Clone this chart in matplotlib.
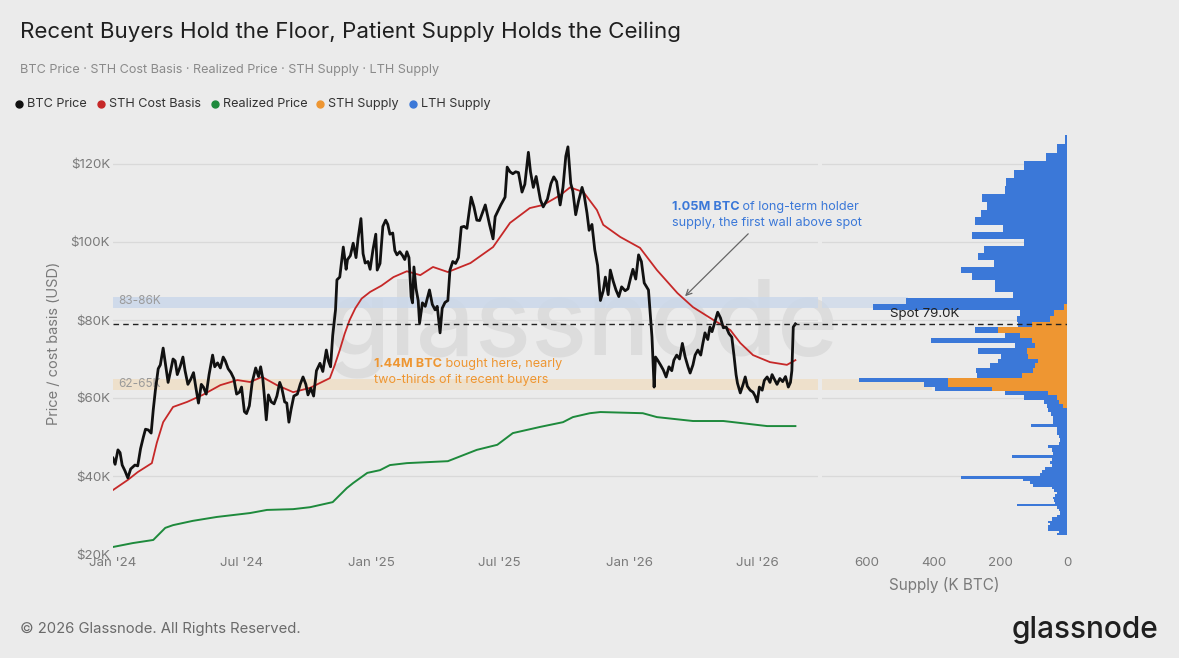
import matplotlib.pyplot as plt
import matplotlib.dates as mdates
from matplotlib.lines import Line2D
import numpy as np
import pandas as pd

plt.rcParams['font.family'] = ['Inter', 'DejaVu Sans']

# ---- data ----
btc_dates = [
    '2024-01-01', '2024-01-04', '2024-01-08', '2024-01-11', '2024-01-14', '2024-01-18', '2024-01-22', '2024-01-26',
    '2024-02-01', '2024-02-05', '2024-02-09', '2024-02-13', '2024-02-16', '2024-02-20', '2024-02-24', '2024-02-27',
    '2024-03-01', '2024-03-05', '2024-03-08', '2024-03-12', '2024-03-15', '2024-03-19', '2024-03-22', '2024-03-26',
    '2024-03-29', '2024-04-01', '2024-04-05', '2024-04-09', '2024-04-12', '2024-04-16', '2024-04-20', '2024-04-24',
    '2024-04-27', '2024-05-01', '2024-05-05', '2024-05-08', '2024-05-12', '2024-05-16', '2024-05-21', '2024-05-24',
    '2024-05-28', '2024-06-01', '2024-06-05', '2024-06-08', '2024-06-12', '2024-06-16', '2024-06-20', '2024-06-24',
    '2024-06-28', '2024-07-01', '2024-07-05', '2024-07-08', '2024-07-12', '2024-07-16', '2024-07-21', '2024-07-25',
    '2024-07-28', '2024-07-31', '2024-08-02', '2024-08-05', '2024-08-08', '2024-08-12', '2024-08-16', '2024-08-20',
    '2024-08-24', '2024-08-27', '2024-08-31', '2024-09-03', '2024-09-06', '2024-09-09', '2024-09-13', '2024-09-18',
    '2024-09-22', '2024-09-26', '2024-09-30', '2024-10-03', '2024-10-07', '2024-10-11', '2024-10-15', '2024-10-20',
    '2024-10-24', '2024-10-29', '2024-11-01', '2024-11-04', '2024-11-07', '2024-11-11', '2024-11-13', '2024-11-17',
    '2024-11-22', '2024-11-26', '2024-11-28', '2024-12-02', '2024-12-06', '2024-12-10', '2024-12-13', '2024-12-17',
    '2024-12-20', '2024-12-23', '2024-12-27', '2024-12-30', '2025-01-03', '2025-01-07', '2025-01-09', '2025-01-13',
    '2025-01-17', '2025-01-21', '2025-01-24', '2025-01-27', '2025-01-31', '2025-02-03', '2025-02-06', '2025-02-10',
    '2025-02-14', '2025-02-17', '2025-02-20', '2025-02-23', '2025-02-26', '2025-02-28', '2025-03-02', '2025-03-05',
    '2025-03-08', '2025-03-10', '2025-03-14', '2025-03-18', '2025-03-24', '2025-03-28', '2025-04-01', '2025-04-04',
    '2025-04-08', '2025-04-11', '2025-04-15', '2025-04-19', '2025-04-22', '2025-04-26', '2025-04-30', '2025-05-04',
    '2025-05-08', '2025-05-12', '2025-05-16', '2025-05-22', '2025-05-26', '2025-05-30', '2025-06-03', '2025-06-08',
    '2025-06-11', '2025-06-17', '2025-06-22', '2025-06-25', '2025-06-29', '2025-07-03', '2025-07-09', '2025-07-12',
    '2025-07-16', '2025-07-20', '2025-07-24', '2025-07-28', '2025-08-02', '2025-08-06', '2025-08-11', '2025-08-14',
    '2025-08-18', '2025-08-22', '2025-08-28', '2025-09-01', '2025-09-07', '2025-09-12', '2025-09-16', '2025-09-20',
    '2025-09-25', '2025-09-29', '2025-10-03', '2025-10-06', '2025-10-10', '2025-10-13', '2025-10-17', '2025-10-21',
    '2025-10-26', '2025-10-29', '2025-11-02', '2025-11-05', '2025-11-09', '2025-11-13', '2025-11-17', '2025-11-21',
    '2025-11-25', '2025-11-28', '2025-12-02', '2025-12-05', '2025-12-09', '2025-12-13', '2025-12-17', '2025-12-21',
    '2025-12-26', '2025-12-30', '2026-01-03', '2026-01-06', '2026-01-10', '2026-01-14', '2026-01-18', '2026-01-22',
    '2026-01-28', '2026-02-01', '2026-02-02', '2026-02-05', '2026-02-07', '2026-02-10', '2026-02-14', '2026-02-18',
    '2026-02-22', '2026-02-26', '2026-03-02', '2026-03-05', '2026-03-09', '2026-03-13', '2026-03-17', '2026-03-21',
    '2026-03-25', '2026-03-28', '2026-04-01', '2026-04-04', '2026-04-08', '2026-04-12', '2026-04-15', '2026-04-18',
    '2026-04-22', '2026-04-25', '2026-04-28', '2026-05-02', '2026-05-06', '2026-05-10', '2026-05-14', '2026-05-18',
    '2026-05-22', '2026-05-26', '2026-05-29', '2026-06-01', '2026-06-03', '2026-06-07', '2026-06-11', '2026-06-14',
    '2026-06-17', '2026-06-21', '2026-06-25', '2026-06-28', '2026-07-01', '2026-07-04', '2026-07-08', '2026-07-11',
    '2026-07-15', '2026-07-19', '2026-07-22', '2026-07-25', '2026-07-29', '2026-08-02', '2026-08-06', '2026-08-10',
    '2026-08-14', '2026-08-17', '2026-08-19', '2026-08-21', '2026-08-24',
]
btc_price = [
    44.6, 43.0, 46.7, 46.0, 42.8, 41.3, 39.5, 41.8,
    42.8, 42.6, 47.0, 50.0, 52.0, 51.8, 51.0, 57.0,
    62.0, 67.5, 68.5, 72.8, 69.0, 64.0, 66.5, 70.0,
    69.5, 66.0, 68.0, 70.5, 67.0, 63.5, 64.8, 66.5,
    63.0, 58.7, 63.5, 62.8, 61.0, 66.0, 71.0, 68.0,
    69.0, 67.7, 70.5, 69.5, 67.5, 66.5, 65.0, 61.0,
    61.5, 62.8, 56.5, 56.0, 58.0, 64.0, 67.7, 65.5,
    68.0, 65.0, 61.0, 54.4, 60.8, 59.0, 58.5, 60.5,
    64.0, 62.5, 59.0, 58.7, 53.8, 57.0, 60.5, 61.0,
    63.5, 65.4, 63.5, 60.8, 62.5, 60.5, 67.0, 68.9,
    66.8, 72.3, 69.5, 68.0, 76.0, 82.6, 90.3, 91.0,
    98.7, 93.0, 95.5, 96.5, 99.7, 96.0, 101.0, 106.0,
    97.0, 94.6, 95.0, 93.0, 98.0, 102.0, 92.8, 94.5,
    104.0, 105.6, 104.5, 102.0, 102.3, 97.8, 96.7, 97.5,
    96.5, 95.5, 97.5, 96.0, 86.0, 84.4, 93.6, 88.0,
    85.0, 79.2, 84.4, 83.5, 87.7, 84.0, 82.6, 83.5,
    76.7, 83.0, 84.5, 85.0, 92.8, 95.0, 94.5, 96.0,
    103.8, 104.0, 103.5, 111.5, 109.0, 105.6, 105.5, 108.0,
    109.5, 104.5, 100.8, 106.5, 108.0, 109.5, 111.5, 119.2,
    118.0, 117.5, 118.0, 117.8, 112.8, 114.8, 123.0, 118.0,
    114.0, 116.8, 110.8, 109.0, 111.0, 115.0, 116.7, 115.5,
    109.5, 114.0, 122.0, 124.4, 115.0, 113.0, 107.0, 110.5,
    114.0, 112.0, 107.4, 103.0, 104.5, 98.0, 94.0, 85.0,
    87.5, 91.0, 86.5, 92.8, 90.0, 87.7, 86.0, 88.5,
    87.5, 88.0, 91.0, 93.0, 90.5, 96.7, 95.0, 89.5,
    87.7, 78.0, 75.6, 62.8, 70.5, 69.7, 68.5, 67.2,
    65.4, 68.0, 67.0, 69.7, 71.0, 70.0, 74.0, 70.5,
    68.0, 66.4, 68.5, 71.0, 72.3, 71.0, 74.0, 76.7,
    75.0, 78.2, 77.0, 79.5, 82.0, 80.5, 78.0, 78.2,
    76.5, 75.6, 71.0, 66.0, 63.8, 61.3, 63.5, 65.4,
    63.0, 62.0, 61.5, 60.5, 59.0, 62.8, 62.0, 64.5,
    65.4, 64.0, 66.0, 64.9, 63.5, 65.0, 64.2, 65.5,
    62.8, 64.0, 67.0, 78.2, 79.0,
]

sth_dates = [
    '2024-01-01', '2024-01-22', '2024-02-05', '2024-02-25', '2024-03-03', '2024-03-12', '2024-03-26', '2024-04-15',
    '2024-05-07', '2024-06-01', '2024-06-25', '2024-07-13', '2024-07-30', '2024-08-20', '2024-09-12', '2024-10-06',
    '2024-11-03', '2024-11-10', '2024-11-17', '2024-11-24', '2024-12-01', '2024-12-09', '2024-12-18', '2024-12-30',
    '2025-01-15', '2025-02-01', '2025-02-20', '2025-03-11', '2025-03-29', '2025-04-19', '2025-05-21', '2025-06-22',
    '2025-07-16', '2025-08-13', '2025-09-01', '2025-09-25', '2025-10-09', '2025-10-28', '2025-11-16', '2025-11-25',
    '2025-12-19', '2026-01-16', '2026-02-09', '2026-03-10', '2026-04-01', '2026-04-30', '2026-05-24', '2026-06-07',
    '2026-06-25', '2026-07-19', '2026-08-12', '2026-08-24',
]
sth_cost = [
    36.4, 39.0, 41.0, 43.3, 48.5, 53.8, 57.7, 59.0,
    60.8, 63.3, 64.6, 64.1, 65.4, 63.3, 61.5, 62.6,
    65.1, 68.5, 72.3, 76.5, 80.0, 83.0, 85.5, 87.2,
    88.8, 91.0, 92.5, 91.5, 93.6, 92.3, 94.6, 98.7,
    104.9, 108.7, 109.5, 112.0, 114.0, 112.8, 108.2, 104.4,
    101.3, 98.5, 92.8, 86.9, 83.3, 80.0, 77.4, 74.1,
    71.0, 69.2, 68.5, 69.7,
]

realized_dates = [
    '2024-01-01', '2024-01-29', '2024-02-27', '2024-03-15', '2024-03-26', '2024-04-23', '2024-05-27', '2024-07-13',
    '2024-08-06', '2024-09-12', '2024-10-06', '2024-11-07', '2024-11-17', '2024-11-27', '2024-12-06', '2024-12-26',
    '2025-01-13', '2025-01-27', '2025-02-20', '2025-04-19', '2025-05-30', '2025-06-28', '2025-07-20', '2025-08-28',
    '2025-09-29', '2025-10-13', '2025-11-06', '2025-11-21', '2026-01-20', '2026-02-09', '2026-04-01', '2026-05-14',
    '2026-06-07', '2026-07-15', '2026-08-24',
]
realized_price = [
    21.8, 22.8, 23.6, 26.7, 27.4, 28.5, 29.5, 30.5,
    31.3, 31.5, 32.0, 33.3, 35.1, 36.9, 38.2, 40.8,
    41.5, 42.8, 43.3, 43.8, 46.7, 48.0, 51.0, 52.6,
    53.8, 55.1, 56.1, 56.4, 56.1, 55.1, 54.1, 54.1,
    53.6, 52.8, 52.8,
]

# supply by price bin (K BTC), 90 log-spaced bins from $25K to $127K
lth_supply = [
    31, 25, 57, 57, 57, 50, 57, 46, 46, 30,
    21, 21, 25, 30, 150, 35, 38, 42, 35, 30,
    38, 45, 102, 110, 132, 317, 81, 75, 65, 46,
    50, 46, 166, 42, 45, 57, 25, 21, 25, 31,
    31, 109, 42, 42, 48, 57, 48, 45, 99, 130,
    171, 73, 268, 135, 170, 136, 120, 80, 147, 60,
    301, 46, 70, 41, 99, 100, 575, 482, 162, 215,
    215, 286, 319, 220, 268, 250, 130, 284, 193, 275,
    259, 240, 256, 187, 184, 160, 130, 64, 30, 5,
]
sth_supply = [0] * 46 + [
    12, 25, 31, 57, 226, 357, 357, 135, 102, 96,
    87, 117, 121, 96, 106, 141, 207, 106, 51, 40, 8,
] + [0] * 23

spot = 79.0
lth_band = (83, 86)
sth_band = (62, 65)

# ---- style ----
BG = '#ebebeb'
GRID = '#d9d9d9'
TICK = '#7a7a7a'
C_BTC = '#111111'
C_STH = '#c62828'
C_REAL = '#1e8a3c'
C_ORANGE = '#ee9632'
C_BLUE = '#3b78d8'

W, H = 1179, 658
fig = plt.figure(figsize=(W / 100, H / 100), dpi=100, facecolor=BG)

def fx(px):
    return px / W

def fy(py):
    return 1 - py / H

y_lo, y_hi = 20, 128
top_px = 554 - (y_hi - y_lo) * 3.9
ax = fig.add_axes([fx(113), fy(554), fx(818 - 113), (554 - top_px) / H])
ax2 = fig.add_axes([fx(822), fy(554), fx(1067 - 822), (554 - top_px) / H], sharey=ax)
for a in (ax, ax2):
    a.set_facecolor('none')
    for s in a.spines.values():
        s.set_visible(False)
    a.tick_params(length=0, labelsize=9.6, labelcolor=TICK)
    for g in [40, 60, 80, 100, 120]:
        a.axhline(g, color=GRID, lw=0.9, zorder=0)

# watermark
fig.text(fx(582), fy(328), 'glassnode', fontsize=75, color='#dcdcdc', ha='center', va='center',
         fontweight='medium', zorder=-1)

bd = pd.to_datetime(btc_dates)
sd = pd.to_datetime(sth_dates)
rd = pd.to_datetime(realized_dates)

# bands
ax.axhspan(*lth_band, color='#cbd8ea', alpha=0.85, lw=0, zorder=0.5)
ax.axhspan(*sth_band, color='#efdfc6', alpha=0.85, lw=0, zorder=0.5)
ax2.axhspan(*lth_band, xmax=0.35, color='#cbd8ea', alpha=0.7, lw=0, zorder=0.5)
ax2.axhspan(*sth_band, xmax=0.45, color='#efdfc6', alpha=0.7, lw=0, zorder=0.5)
ax.text(pd.Timestamp('2024-01-08'), 84.9, '83-86K', fontsize=8.5, color='#9a9a9a', va='center', zorder=2)
ax.text(pd.Timestamp('2024-01-08'), 63.6, '62-65K', fontsize=8.5, color='#9a9a9a', va='center', zorder=2)

ax.plot(rd, realized_price, color=C_REAL, lw=1.4, zorder=3)
ax.plot(sd, sth_cost, color=C_STH, lw=1.3, zorder=3)
ax.plot(bd, btc_price, color=C_BTC, lw=2.0, zorder=4, solid_joinstyle='round')

ax.axhline(spot, color='#222222', lw=1.0, ls=(0, (4, 3)), zorder=5)
ax2.axhline(spot, color='#222222', lw=1.0, ls=(0, (4, 3)), zorder=5)

ax.set_xlim(pd.Timestamp('2024-01-01'), pd.Timestamp('2026-09-25'))
ax.set_ylim(y_lo, y_hi)
ax.set_yticks([20, 40, 60, 80, 100, 120])
ax.set_yticklabels(['$20K', '$40K', '$60K', '$80K', '$100K', '$120K'])
ax.xaxis.set_major_locator(mdates.MonthLocator(bymonth=[1, 7]))
ax.xaxis.set_major_formatter(mdates.DateFormatter("%b '%y"))
ax.tick_params(axis='y', pad=2)
ax.tick_params(axis='x', pad=2)
ax.set_ylabel('Price / cost basis (USD)', fontsize=10.5, color=TICK)
ax.yaxis.set_label_coords(-(113 - 61) / (818 - 113), 0.5)

# annotations
t1 = ax.text(pd.Timestamp('2026-03-02'), 109.0, '1.05M BTC', fontsize=9.1, color=C_BLUE,
             fontweight='bold', va='center', zorder=6)
ax.annotate(' of long-term holder', xy=(1, 0.5), xycoords=t1, va='center', fontsize=9.1,
            color=C_BLUE, zorder=6)
ax.text(pd.Timestamp('2026-03-02'), 104.9, 'supply, the first wall above spot', fontsize=9.1,
        color=C_BLUE, va='center', zorder=6)
ax.annotate('', xy=(pd.Timestamp('2026-03-18'), 85.6), xytext=(pd.Timestamp('2026-06-21'), 102.6),
            arrowprops=dict(arrowstyle='->', color='#666666', lw=0.9), zorder=6)

t2 = ax.text(pd.Timestamp('2025-01-04'), 68.8, '1.44M BTC', fontsize=9.1, color=C_ORANGE,
             fontweight='bold', va='center', zorder=6)
ax.annotate(' bought here, nearly', xy=(1, 0.5), xycoords=t2, va='center', fontsize=9.1,
            color=C_ORANGE, zorder=6)
ax.text(pd.Timestamp('2025-01-04'), 64.5, 'two-thirds of it recent buyers', fontsize=9.1,
        color=C_ORANGE, va='center', zorder=6)

# supply histogram
edges = np.geomspace(25.0, 127.4, len(lth_supply) + 1)
ax2.barh(edges[:-1], sth_supply, height=np.diff(edges), align='edge', color=C_ORANGE,
         linewidth=0, zorder=3)
ax2.barh(edges[:-1], lth_supply, left=sth_supply, height=np.diff(edges), align='edge',
         color=C_BLUE, linewidth=0, zorder=3)
ax2.set_xlim(735, 0)
ax2.set_xticks([600, 400, 200, 0])
ax2.tick_params(axis='y', labelleft=False)
ax2.tick_params(axis='x', pad=2)
ax2.set_xlabel('Supply (K BTC)', fontsize=11, color=TICK, labelpad=6)
ax2.text(532, 81.5, 'Spot 79.0K', fontsize=9.6, color='#222222', va='center', ha='left', zorder=6)

# header
fig.text(fx(20), fy(32), 'Recent Buyers Hold the Floor, Patient Supply Holds the Ceiling',
         fontsize=16.1, color='#1f1f1f', va='center')
fig.text(fx(20), fy(70), 'BTC Price · STH Cost Basis · Realized Price · STH Supply · LTH Supply',
         fontsize=9.1, color='#8a8a8a', va='center')
legend_items = [('BTC Price', C_BTC, 19), ('STH Cost Basis', C_STH, 101),
                ('Realized Price', C_REAL, 215), ('STH Supply', C_ORANGE, 320),
                ('LTH Supply', C_BLUE, 413)]
for name, col, px in legend_items:
    fig.add_artist(Line2D([fx(px)], [fy(104)], marker='o', markersize=5, color=col, lw=0,
                          transform=fig.transFigure))
    fig.text(fx(px + 8), fy(104), name, fontsize=9.1, color='#333333', va='center')

# footer
fig.text(fx(20), fy(629), '© 2026 Glassnode. All Rights Reserved.', fontsize=10.7,
         color='#6a6a6a', va='center')
fig.text(fx(1158), fy(630), 'glassnode', fontsize=21.5, color='#1f1f1f', va='center', ha='right',
         fontweight='medium')

fig.savefig('out.png', dpi=100, facecolor=BG)
